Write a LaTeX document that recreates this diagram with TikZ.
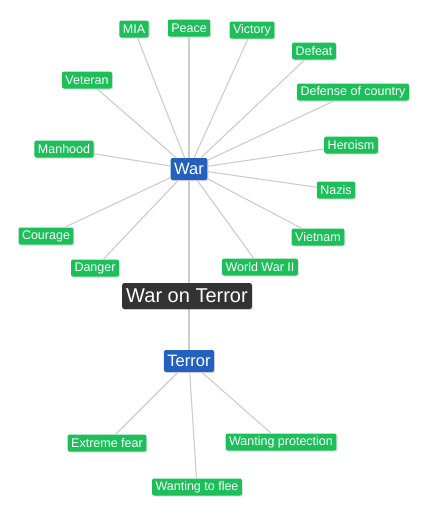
\documentclass[tikz,border=0pt]{standalone}
\usepackage{fontspec}
\setmainfont{Liberation Sans}
\usetikzlibrary{shapes,positioning,shadows}

\definecolor{leafgreen}{HTML}{1DBF5B}
\definecolor{hubblue}{HTML}{2461BF}
\definecolor{rootgray}{HTML}{333333}
\definecolor{linkgray}{HTML}{CCCCCC}

\begin{document}
\begin{tikzpicture}[x=1pt, y=-1pt, semithick,
        leaf/.style={fill=leafgreen, text=white, rounded corners=2pt, font=\fontsize{12.5}{12.5}\selectfont,
            inner xsep=3.5pt, inner ysep=0pt, minimum height=17pt,
            drop shadow={shadow xshift=1.2pt, shadow yshift=-1.2pt, opacity=0.25}},
        hub/.style={fill=hubblue, text=white, rounded corners=2pt, font=\fontsize{16.5}{16.5}\selectfont,
            inner xsep=3.5pt, inner ysep=0pt, minimum height=22pt,
            drop shadow={shadow xshift=1.2pt, shadow yshift=-1.2pt, opacity=0.25}},
        root/.style={fill=rootgray, text=white, rounded corners=2pt, font=\fontsize{20}{20}\selectfont,
            inner xsep=4pt, inner ysep=0pt, minimum height=26pt,
            drop shadow={shadow xshift=1.2pt, shadow yshift=-1.2pt, opacity=0.25}},
        link/.style={draw=linkgray, line width=1.1pt}]
        \useasboundingbox (0,0) rectangle (431,515);

        % hubs
        \node[hub] (War) at (189,169) {War};
        \node[hub] (Terror) at (189,361) {Terror};

        % words around war
        \node[leaf] (MIA) at (134,29) {MIA};
        \node[leaf] (Peace) at (189,28) {Peace};
        \node[leaf] (Victory) at (252,30) {Victory};
        \node[leaf] (Defeat) at (314,51) {Defeat};
        \node[leaf] (Defense) at (353,92) {Defense of country};
        \node[leaf] (Veteran) at (87,80) {Veteran};
        \node[leaf] (Heroism) at (351,145) {Heroism};
        \node[leaf] (Manhood) at (64,149) {Manhood};
        \node[leaf] (Nazis) at (336,190) {Nazis};
        \node[leaf] (Vietnam) at (318,237) {Vietnam};
        \node[leaf] (Courage) at (46,236) {Courage};
        \node[leaf] (Danger) at (95,268) {Danger};
        \node[leaf] (WWII) at (260,267) {World War II};

        % words around terror
        \node[leaf] (Fear) at (107,443) {Extreme fear};
        \node[leaf] (Protection) at (281,442) {Wanting protection};
        \node[leaf] (Flee) at (197,487) {Wanting to flee};

        \path[link] (War) edge (MIA)
              (War) edge (Peace)
              (War) edge (Victory)
              (War) edge (Defeat)
              (War) edge (Defense)
              (War) edge (Veteran)
              (War) edge (Heroism)
              (War) edge (Manhood)
              (War) edge (Nazis)
              (War) edge (Vietnam)
              (War) edge (Courage)
              (War) edge (Danger)
              (War) edge (WWII)
              (War) edge (Terror)
              (Terror) edge (Fear)
              (Terror) edge (Protection)
              (Terror) edge (Flee);

        \node[root] (WarOnTerror) at (187,296) {War on Terror};
    \end{tikzpicture}
\end{document}
